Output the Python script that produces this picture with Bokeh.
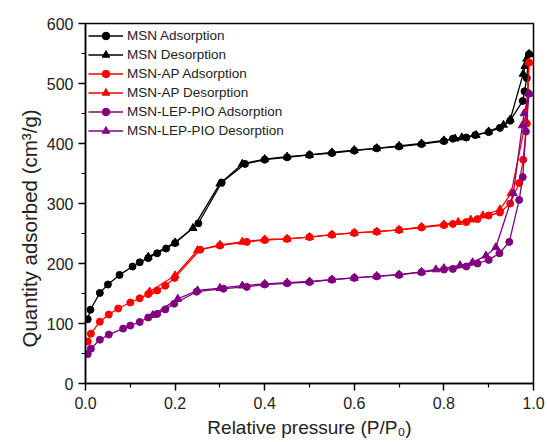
from bokeh.plotting import figure
from bokeh.models import Range1d, FixedTicker, Legend, LegendItem, Title
from bokeh.embed import file_html
from bokeh.resources import INLINE

# ---------------- data ----------------
msn_ads_p = [0.005, 0.011, 0.032, 0.05, 0.076, 0.105, 0.121, 0.14, 0.16, 0.18, 0.2, 0.252, 0.304, 0.356,
             0.4, 0.45, 0.5, 0.55, 0.6, 0.65, 0.7, 0.75, 0.8, 0.82, 0.85, 0.87, 0.9, 0.925, 0.948,
             0.976, 0.98, 0.985, 0.99]
msn_ads_q = [107, 123, 151, 165, 181, 195, 202, 209, 217, 225, 234, 267, 335, 366,
             373, 377, 381, 384, 388, 392, 395, 399, 404, 408, 410, 414, 419, 426, 438,
             471, 487, 509, 549]

msn_des_p = [0.99, 0.985, 0.981, 0.977, 0.948, 0.933, 0.9, 0.872, 0.84, 0.825, 0.8, 0.75, 0.7, 0.65,
             0.6, 0.55, 0.5, 0.45, 0.4, 0.35, 0.3, 0.24, 0.2, 0.14]
msn_des_q = [549, 541, 529, 516, 440, 431, 420, 414, 410, 408, 405, 400, 396, 392,
             389, 385, 381, 378, 374, 366, 333, 259, 235, 211]

ap_ads_p = [0.005, 0.012, 0.032, 0.052, 0.073, 0.1, 0.121, 0.14, 0.16, 0.178, 0.199, 0.256, 0.3, 0.36,
            0.4, 0.45, 0.5, 0.55, 0.6, 0.65, 0.7, 0.75, 0.8, 0.82, 0.85, 0.875, 0.9, 0.925, 0.948,
            0.968, 0.977, 0.985, 0.99]
ap_ads_q = [70, 83, 103, 115, 125, 135, 142, 149, 155, 163, 176, 223, 230, 236,
            239, 241, 244, 248, 251, 253, 256, 260, 264, 266, 269, 274, 280, 285, 300,
            334, 373, 433, 535]

ap_des_p = [0.99, 0.983, 0.95, 0.925, 0.887, 0.86, 0.832, 0.8, 0.75, 0.7, 0.65, 0.6, 0.55, 0.5,
            0.45, 0.4, 0.35, 0.3, 0.25, 0.2, 0.143]
ap_des_q = [535, 438, 317, 290, 280, 273, 269, 265, 261, 256, 253, 251, 248, 244,
            241, 240, 236, 231, 222, 180, 153]

lep_ads_p = [0.005, 0.012, 0.032, 0.052, 0.084, 0.1, 0.121, 0.14, 0.16, 0.178, 0.198, 0.248, 0.308, 0.36,
             0.4, 0.45, 0.5, 0.55, 0.6, 0.65, 0.7, 0.75, 0.8, 0.82, 0.85, 0.875, 0.9, 0.924, 0.946,
             0.968, 0.976, 0.983, 0.99]
lep_ads_q = [49, 58, 73, 81.5, 91.5, 96.5, 102.5, 110, 116, 123.5, 133, 153, 158, 161,
             165, 167, 169, 173, 176, 178.5, 181, 185.5, 190, 191, 195, 200, 206, 217, 236,
             306, 344, 420, 483]

lep_des_p = [0.99, 0.979, 0.975, 0.955, 0.916, 0.894, 0.864, 0.836, 0.8, 0.782, 0.75, 0.7, 0.65, 0.6,
             0.55, 0.5, 0.45, 0.4, 0.35, 0.3, 0.25, 0.206, 0.15]
lep_des_q = [483, 450, 430, 317, 227, 213, 202, 197, 192, 190, 186, 181.5, 179, 176,
             173, 170, 168, 166, 163, 159, 155, 141, 114]

series = [
    ("MSN Adsorption", msn_ads_p, msn_ads_q, "black", "circle"),
    ("MSN Desorption", msn_des_p, msn_des_q, "black", "triangle"),
    ("MSN-AP Adsorption", ap_ads_p, ap_ads_q, "#ff0000", "circle"),
    ("MSN-AP Desorption", ap_des_p, ap_des_q, "#ff0000", "triangle"),
    ("MSN-LEP-PIO Adsorption", lep_ads_p, lep_ads_q, "#800080", "circle"),
    ("MSN-LEP-PIO Desorption", lep_des_p, lep_des_q, "#800080", "triangle"),
]

x_title = "Relative pressure (P/P\u2080)"
y_title = "Quantity adsorbed (cm\u00b3/g)"

FONT = "Liberation Sans"

p = figure(width=547, height=442, output_backend="svg", toolbar_location=None,
           x_range=Range1d(0, 1.0), y_range=Range1d(0, 600),
           min_border_left=85, min_border_right=14, min_border_top=23, min_border_bottom=59)
p.background_fill_color = "white"
p.border_fill_color = "white"
p.grid.visible = False
p.outline_line_color = "black"
p.outline_line_width = 1.5
p.outline_line_alpha = 1.0

items = []
for label, xs, ys, col, mk in series:
    r1 = p.line(xs, ys, line_color=col, line_width=1.3)
    sz = 7 if mk == "circle" else 8
    r2 = p.scatter(xs, ys, marker=mk, size=sz, fill_color=col, line_color=col)
    items.append(LegendItem(label=label, renderers=[r1, r2]))

legend = Legend(items=items, location=(3, 243), border_line_color=None,
                background_fill_alpha=0, padding=2, margin=0, spacing=0,
                glyph_width=35, glyph_height=19, label_height=19, label_standoff=4,
                label_text_font=FONT, label_text_font_size="13.5px", label_text_color="#222222")
p.add_layout(legend)

for ax in (p.xaxis[0], p.yaxis[0]):
    ax.axis_line_width = 1.5
    ax.major_tick_line_width = 1.5
    ax.minor_tick_line_width = 1.2
    ax.major_tick_in = 0
    ax.major_tick_out = 7
    ax.minor_tick_in = 0
    ax.minor_tick_out = 4
    ax.major_label_text_font = FONT
    ax.major_label_text_font_size = "16px"
    ax.major_label_text_color = "#222222"
    ax.axis_label_text_font = FONT
    ax.axis_label_text_font_size = "19px"
    ax.axis_label_text_font_style = "normal"
    ax.axis_label_text_color = "#222222"

p.xaxis.ticker = FixedTicker(ticks=[0, 0.2, 0.4, 0.6, 0.8, 1.0], minor_ticks=[0.1, 0.3, 0.5, 0.7, 0.9])
p.yaxis.ticker = FixedTicker(ticks=[0, 100, 200, 300, 400, 500, 600],
                             minor_ticks=[50, 150, 250, 350, 450, 550])
p.xaxis.major_label_overrides = {0: "0.0", 1: "1.0"}
p.xaxis.axis_label = x_title
p.xaxis.major_label_standoff = 6
p.yaxis.major_label_standoff = 5
p.xaxis.axis_label_standoff = 5

# y-axis title as a left-side title, anchored near the bottom of the frame
ytitle = Title(text=y_title, align="left", offset=36, standoff=6,
               text_font=FONT, text_font_size="20.5px", text_font_style="normal",
               text_color="#222222")
p.add_layout(ytitle, "left")

open("out.html", "w").write(file_html(p, INLINE))
